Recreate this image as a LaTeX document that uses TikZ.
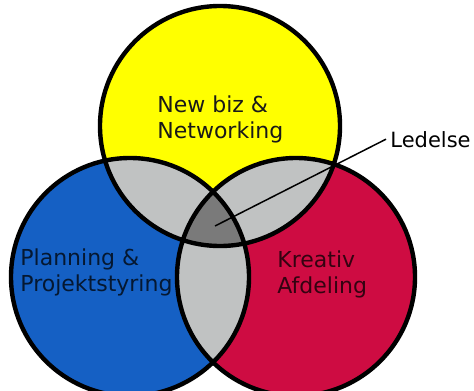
\documentclass[tikz,border=0pt]{standalone}
\usepackage{fontspec}
\setmainfont{DejaVu Sans}
\definecolor{venngul}{RGB}{255,255,0}
\definecolor{vennblaa}{RGB}{21,96,196}
\definecolor{vennroed}{RGB}{206,12,66}
\definecolor{venngraa}{RGB}{192,194,194}
\definecolor{vennmidte}{RGB}{122,122,122}

\begin{document}
\begin{tikzpicture}[x=0.5pt,y=-0.5pt,
        rand/.style={line width=2.2pt},
        etiket/.style={inner sep=0pt, align=left, font=\fontsize{11}{13}\selectfont}]
        \useasboundingbox (0,0) rectangle (474,390);
        \def\rG{60pt}
        \def\rB{59.5pt}
        \coordinate (gul) at (220,126);
        \coordinate (blaa) at (130,277);
        \coordinate (roed) at (296,277);
        \coordinate (midte) at (215,226);

        % cirklerne
        \fill[venngul] (gul) circle[radius=\rG];
        \fill[vennblaa] (blaa) circle[radius=\rB];
        \fill[vennroed] (roed) circle[radius=\rB];
        % overlap
        \begin{scope}
                \clip (gul) circle[radius=\rG];
                \fill[venngraa] (blaa) circle[radius=\rB];
                \fill[venngraa] (roed) circle[radius=\rB];
        \end{scope}
        \begin{scope}
                \clip (blaa) circle[radius=\rB];
                \fill[venngraa] (roed) circle[radius=\rB];
        \end{scope}
        \begin{scope}
                \clip (gul) circle[radius=\rG];
                \clip (blaa) circle[radius=\rB];
                \fill[vennmidte] (roed) circle[radius=\rB];
        \end{scope}
        \draw[rand] (gul) circle[radius=\rG] (blaa) circle[radius=\rB] (roed) circle[radius=\rB];

        % tekster
        \node[etiket, anchor=north west, text=black!90] (nybiz) at (157,95) {New biz \&\\Networking};
        \node[etiket, anchor=north west, text=vennblaa!25!black] (planning) at (20,248) {Planning \&\\Projektstyring};
        \node[etiket, anchor=north west, text=vennroed!25!black] (kreativ) at (277,250) {Kreativ\\Afdeling};
        \node[inner sep=2pt, anchor=base west, font=\fontsize{10.5}{12}\selectfont] (ledelse) at (386,147) {Ledelse};
        \draw[line width=0.75pt] (ledelse.west) -- (midte);
\end{tikzpicture}
\end{document}
